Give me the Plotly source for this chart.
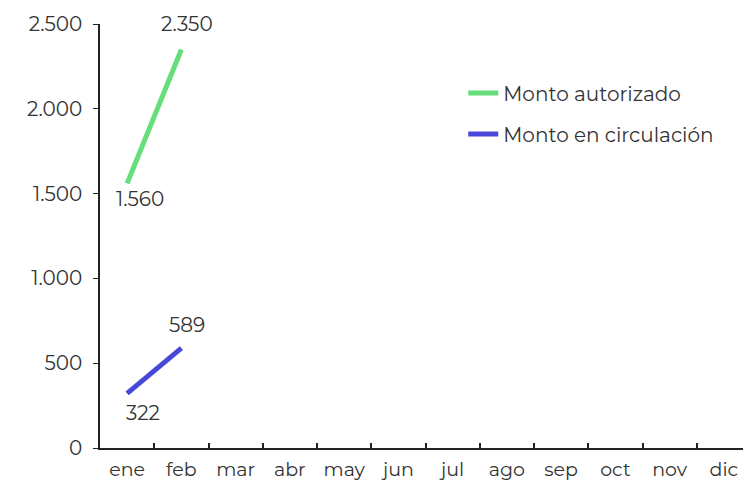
import plotly.graph_objects as go

months = ["ene", "feb", "mar", "abr", "may", "jun", "jul", "ago", "sep", "oct", "nov", "dic"]
autorizado = [1560, 2350]
circulacion = [322, 589]

green = "#66DE7A"
blue = "#4848D8"
font_family = "Montserrat, 'Noto Sans', 'DejaVu Sans', sans-serif"

fig = go.Figure()

fig.add_trace(go.Scatter(
    x=months[:len(autorizado)], y=autorizado,
    mode="lines", name="Monto autorizado", legendgroup="a",
    line=dict(color=green, width=5),
))
fig.add_trace(go.Scatter(
    x=months[:len(circulacion)], y=circulacion,
    mode="lines", name="Monto en circulación", legendgroup="b",
    line=dict(color=blue, width=5),
))

# Data labels
label_specs = [
    (months[0], autorizado[0], 13, -16),
    (months[1], autorizado[1], 6, 25),
    (months[0], circulacion[0], 16, -20),
    (months[1], circulacion[1], 6, 23),
]
for x, y, dx, dy in label_specs:
    fig.add_annotation(
        x=x, y=y, text=f"{y:,.0f}".replace(",", "."),
        showarrow=False, xshift=dx, yshift=dy,
        font=dict(size=20, color="#333333", family=font_family),
    )

fig.update_layout(
    width=743, height=473,
    margin=dict(l=92, r=0, t=16, b=30),
    plot_bgcolor="white", paper_bgcolor="white",
    separators=",.",
    font=dict(family=font_family, size=20, color="#333333"),
    showlegend=True,
    legend=dict(
        x=0.558, y=0.883, xanchor="left", yanchor="top",
        bgcolor="rgba(0,0,0,0)", font=dict(size=20),
        traceorder="grouped", tracegroupgap=12,
    ),
)

fig.update_xaxes(
    type="category", categoryorder="array", categoryarray=months,
    range=[-0.5, 11.5],
    showline=True, linecolor="#222222", linewidth=2,
    ticks="inside", ticklen=5, tickcolor="#222222", tickwidth=2,
    tickson="boundaries", showgrid=False, zeroline=False,
    tickfont=dict(size=19), ticklabelstandoff=3,
)
fig.update_yaxes(
    range=[0, 2500], dtick=500, tickformat=",d",
    showline=True, linecolor="#222222", linewidth=1.5,
    ticks="outside", ticklen=5, tickcolor="#222222",
    showgrid=False, zeroline=False,
    tickfont=dict(size=20), ticklabelstandoff=7,
)

fig.write_html("out.html")
